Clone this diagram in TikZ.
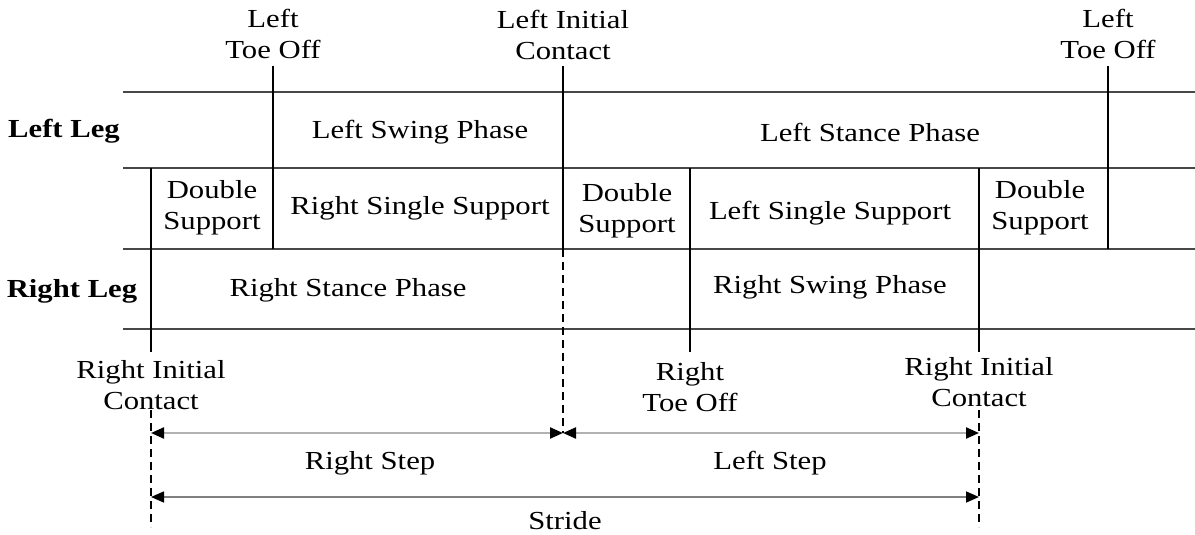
\documentclass[tikz,border=0pt]{standalone}
\usepackage{fontspec}
\setmainfont[FakeStretch=1.18]{Liberation Serif}
\usetikzlibrary{arrows.meta}
\begin{document}
\begin{tikzpicture}[x=1pt,y=-1pt,
  lbl/.style={font=\fontsize{26}{31}\selectfont, align=center, inner sep=0pt},
  bl/.style={lbl, font=\fontsize{26}{31}\selectfont\bfseries},
  hl/.style={draw=black!72, line width=1.3pt},
  vl/.style={draw=black, line width=2pt},
  dl/.style={draw=black, line width=2pt, dash pattern=on 8pt off 5pt},
  stp/.style={draw=black!30, line width=2.2pt, {Triangle[length=13pt,width=11pt,color=black]}-{Triangle[length=13pt,width=11pt,color=black]}},
  strd/.style={draw=black!50, line width=1.6pt, {Triangle[length=13pt,width=11pt,color=black]}-{Triangle[length=13pt,width=11pt,color=black]}}
]
\useasboundingbox (0,0) rectangle (1195,535);

% horizontal grid lines
\coordinate (h1a) at (123,92);  \coordinate (h1b) at (1195,92);
\coordinate (h2a) at (123,168); \coordinate (h2b) at (1195,168);
\coordinate (h3a) at (123,249); \coordinate (h3b) at (1195,249);
\coordinate (h4a) at (123,329); \coordinate (h4b) at (1195,329);
\draw[hl] (h1a) -- (h1b);
\draw[hl] (h2a) -- (h2b);
\draw[hl] (h3a) -- (h3b);
\draw[hl] (h4a) -- (h4b);

% event coordinates
\coordinate (ric1t) at (151,168); \coordinate (ric1b) at (151,352);
\coordinate (ric1d) at (151,410); \coordinate (ric1e) at (151,527);
\coordinate (lto1t) at (273,66);  \coordinate (lto1b) at (273,249);
\coordinate (lict)  at (563,66);  \coordinate (licb)  at (563,249);
\coordinate (licd)  at (563,433);
\coordinate (rtot)  at (690,168); \coordinate (rtob)  at (690,352);
\coordinate (ric2t) at (979,168); \coordinate (ric2b) at (979,352);
\coordinate (ric2d) at (979,410); \coordinate (ric2e) at (979,527);
\coordinate (lto2t) at (1108,66); \coordinate (lto2b) at (1108,249);

\draw[vl] (ric1t) -- (ric1b);
\draw[dl] (ric1d) -- (ric1e);
\draw[vl] (lto1t) -- (lto1b);
\draw[vl] (lict) -- (licb);
\draw[dl] (licb) -- (licd);
\draw[vl] (rtot) -- (rtob);
\draw[vl] (ric2t) -- (ric2b);
\draw[dl] (ric2d) -- (ric2e);
\draw[vl] (lto2t) -- (lto2b);

% arrows
\coordinate (a1) at (151,433); \coordinate (a2) at (563,433); \coordinate (a3) at (979,433);
\coordinate (s1) at (151,497); \coordinate (s2) at (979,497);
\draw[stp] (a1) -- (a2);
\draw[stp] (a2) -- (a3);
\draw[strd] (s1) -- (s2);

% labels
\node[lbl] (tlto1) at (273,34) {Left\\Toe Off};
\node[lbl] (tlic) at (563,35) {Left Initial\\Contact};
\node[lbl] (tlto2) at (1108,34) {Left\\Toe Off};
\node[bl] (leftleg) at (64,131) {Left Leg};
\node[bl] (rightleg) at (72,291) {Right Leg};
\node[lbl] (lswing) at (420,132) {Left Swing Phase};
\node[lbl] (lstance) at (870,132) {Left Stance Phase};
\node[lbl] (ds1) at (212,208) {Double\\Support};
\node[lbl] (rss) at (420,208) {Right Single Support};
\node[lbl] (ds2) at (627,211) {Double\\Support};
\node[lbl] (lss) at (830,213) {Left Single Support};
\node[lbl] (ds3) at (1040,208) {Double\\Support};
\node[lbl] (rstance) at (348,290) {Right Stance Phase};
\node[lbl] (rswing) at (830,287) {Right Swing Phase};
\node[lbl] (bric1) at (151,385) {Right Initial\\Contact};
\node[lbl] (brto) at (690,387) {Right\\Toe Off};
\node[lbl] (bric2) at (979,382) {Right Initial\\Contact};
\node[lbl] (rstep) at (370,463) {Right Step};
\node[lbl] (lstep) at (770,463) {Left Step};
\node[lbl] (stride) at (565,521) {Stride};
\end{tikzpicture}
\end{document}
